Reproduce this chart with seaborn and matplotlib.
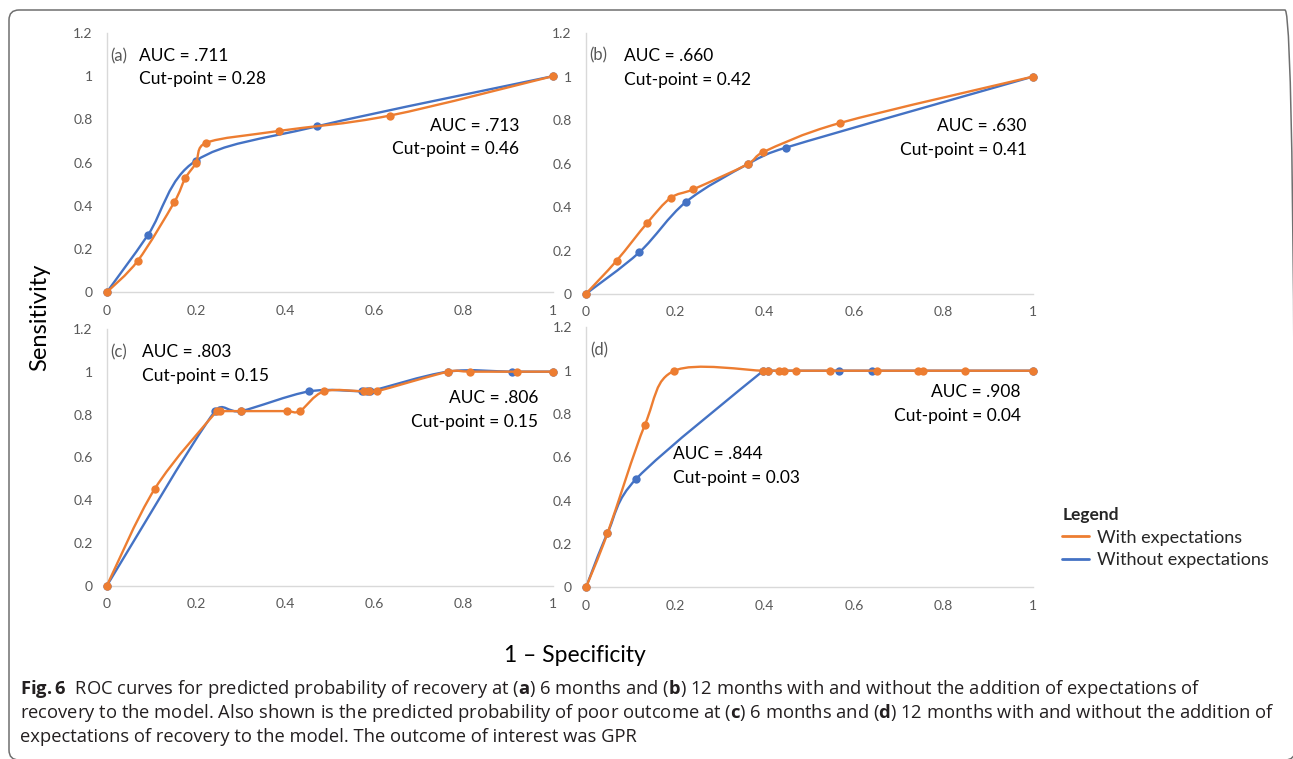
import numpy as np
import matplotlib
matplotlib.use("Agg")
import matplotlib.pyplot as plt
import seaborn as sns
from matplotlib.path import Path
from matplotlib.patches import PathPatch, FancyBboxPatch
from matplotlib.lines import Line2D
from matplotlib.transforms import IdentityTransform

# ---- data (1 - specificity, sensitivity) ----
# (a) recovery, 6 months
a_with_x = [0, 0.070, 0.152, 0.176, 0.200, 0.223, 0.387, 0.635, 1]
a_with_y = [0, 0.147, 0.419, 0.527, 0.598, 0.692, 0.747, 0.818, 1]
a_wo_x = [0, 0.093, 0.200, 0.471, 1]
a_wo_y = [0, 0.267, 0.609, 0.768, 1]

# (b) recovery, 12 months
b_with_x = [0, 0.069, 0.138, 0.190, 0.241, 0.362, 0.397, 0.569, 1]
b_with_y = [0, 0.153, 0.328, 0.442, 0.482, 0.597, 0.653, 0.787, 1]
b_wo_x = [0, 0.120, 0.224, 0.362, 0.447, 1]
b_wo_y = [0, 0.192, 0.423, 0.597, 0.673, 1]

# (c) poor outcome, 6 months
c_with_x = [0, 0.108, 0.247, 0.254, 0.301, 0.404, 0.433, 0.487, 0.577, 0.589, 0.605, 0.766, 0.815, 0.919, 1]
c_with_y = [0, 0.454, 0.816, 0.816, 0.816, 0.816, 0.816, 0.908, 0.908, 0.908, 0.908, 1, 1, 1, 1]
c_wo_x = [0, 0.243, 0.301, 0.454, 0.572, 0.583, 0.590, 0.765, 0.908, 1]
c_wo_y = [0, 0.816, 0.816, 0.908, 0.908, 0.908, 0.908, 1, 1, 1]

# (d) poor outcome, 12 months
d_with_x = [0, 0.048, 0.132, 0.198, 0.397, 0.407, 0.433, 0.444, 0.470, 0.546, 0.651, 0.744, 0.755, 0.849, 1]
d_with_y = [0, 0.249, 0.751, 1, 1, 1, 1, 1, 1, 1, 1, 1, 1, 1, 1]
d_wo_x = [0, 0.048, 0.113, 0.397, 0.407, 0.567, 0.641, 1]
d_wo_y = [0, 0.249, 0.502, 1, 1, 1, 1, 1]

panels = {
    "a": (a_with_x, a_with_y, a_wo_x, a_wo_y),
    "b": (b_with_x, b_with_y, b_wo_x, b_wo_y),
    "c": (c_with_x, c_with_y, c_wo_x, c_wo_y),
    "d": (d_with_x, d_with_y, d_wo_x, d_wo_y),
}

# annotation text: (left lines, right lines)
notes = {
    "a": (["AUC = .711", "Cut-point = 0.28"], ["AUC = .713", "Cut-point = 0.46"]),
    "b": (["AUC = .660", "Cut-point = 0.42"], ["AUC = .630", "Cut-point = 0.41"]),
    "c": (["AUC = .803", "Cut-point = 0.15"], ["AUC = .806", "Cut-point = 0.15"]),
    "d": ([], ["AUC = .908", "Cut-point = 0.04"]),
}

ORANGE = "#ED7D31"
BLUE = "#4472C4"
GREY = "#595959"
AXIS = "#d9d9d9"

sns.set_theme(style="white")
plt.rcParams["font.family"] = ["Lato", "DejaVu Sans"]
plt.rcParams["mathtext.fontset"] = "custom"
plt.rcParams["mathtext.rm"] = "Open Sans"
plt.rcParams["mathtext.bf"] = "Open Sans:bold"

W, H = 1293, 759
fig = plt.figure(figsize=(W / 100, H / 100), dpi=100)
fig.patch.set_facecolor("white")


def px_axes(x0, x1, y0, y12):
    # x0/x1 = pixel of x=0/x=1, y0/y12 = pixel row of y=0 / y=1.2
    return fig.add_axes([x0 / W, 1 - y0 / H, (x1 - x0) / W, (y0 - y12) / H])


boxes = {
    "a": (106.7, 552.7, 292.3, 33.0),
    "b": (585.7, 1032.7, 294.0, 33.2),
    "c": (106.7, 552.7, 586.0, 328.8),
    "d": (586.0, 1032.7, 587.3, 327.4),
}


def smooth_path(xs, ys, sx, sy):
    # excel-like smoothed line: bezier segments with catmull-rom tangents
    p = np.column_stack([np.array(xs) * sx, np.array(ys) * sy])
    n = len(p)
    verts = [p[0]]
    codes = [Path.MOVETO]
    for i in range(n - 1):
        pa = p[i - 1] if i > 0 else p[i]
        pb = p[i + 2] if i + 2 < n else p[i + 1]
        seg = np.linalg.norm(p[i + 1] - p[i])
        t1 = (p[i + 1] - pa) / 6
        t2 = (pb - p[i]) / 6
        for t in (t1, t2):
            L = np.linalg.norm(t)
            if L > seg * 0.5 and L > 0:
                t *= seg * 0.5 / L
        verts += [p[i] + t1, p[i + 1] - t2, p[i + 1]]
        codes += [Path.CURVE4] * 3
    verts = np.array(verts)
    verts[:, 0] /= sx
    verts[:, 1] /= sy
    return Path(verts, codes)


for key, (wx, wy, ox, oy) in panels.items():
    x0, x1, y0, y12 = boxes[key]
    ax = px_axes(x0, x1, y0, y12)
    sx = x1 - x0
    sy = (y0 - y12) / 1.2
    for xs, ys, col, z in [(ox, oy, BLUE, 2), (wx, wy, ORANGE, 4)]:
        ax.add_patch(PathPatch(smooth_path(xs, ys, sx, sy), fill=False,
                               edgecolor=col, lw=1.7, zorder=z, clip_on=False))
        sns.scatterplot(x=xs, y=ys, color=col, s=36, linewidth=0, ax=ax,
                        zorder=z + 1, clip_on=False)
    ax.set_xlim(0, 1)
    ax.set_ylim(0, 1.2)
    ax.set_xticks([0, 0.2, 0.4, 0.6, 0.8, 1])
    ax.set_xticklabels(["0", "0.2", "0.4", "0.6", "0.8", "1"])
    ax.set_yticks([0, 0.2, 0.4, 0.6, 0.8, 1, 1.2])
    ax.set_yticklabels(["0", "0.2", "0.4", "0.6", "0.8", "1", "1.2"])
    ax.tick_params(axis="both", length=0, labelsize=10, labelcolor=GREY)
    ax.tick_params(axis="y", pad=10)
    ax.tick_params(axis="x", pad=9)
    ax.patch.set_alpha(0)
    for s in ["top", "right"]:
        ax.spines[s].set_visible(False)
    for s in ["left", "bottom"]:
        ax.spines[s].set_color(AXIS)
        ax.spines[s].set_linewidth(1.0)

    def dat(px, py):
        return (px - x0) / sx, (y0 - py) / sy

    left, right = notes[key]
    # panel tag
    tx, ty = dat(x0 + 4, {"a": 56, "b": 55.7, "c": 352.3, "d": 350}[key])
    ax.text(tx, ty, f"({key})", fontsize=12, color=GREY, va="center", ha="left")
    if left:
        lx = {"a": 139, "b": 624, "c": 141.7}[key]
        ly = {"a": (56, 79), "b": (55.7, 80), "c": (352.3, 376)}[key]
        for line, yy in zip(left, ly):
            ax.text(*dat(lx, yy), line, fontsize=12.5, color="black", va="center", ha="left")
    rx = {"a": 519, "b": 1026.7, "c": 538.3, "d": 1020.7}[key]
    ry = {"a": (126, 149), "b": (126, 150), "c": (397.7, 421.7), "d": (392.3, 416)}[key]
    for line, yy in zip(right, ry):
        ax.text(*dat(rx, yy), line, fontsize=12.5, color="black", va="center", ha="right")
    if key == "d":
        for line, yy in zip(["AUC = .844", "Cut-point = 0.03"], (454.3, 478.3)):
            ax.text(*dat(672.7, yy), line, fontsize=12.5, color="black", va="center", ha="left")

# axis titles
fig.text(40 / W, 1 - 317 / H, "Sensitivity", rotation=90, fontsize=17,
         color="black", ha="center", va="center")
fig.text(575 / W, 1 - 655 / H, "1 \u2013 Specificity", fontsize=16.5,
         color="black", ha="center", va="center")

# legend
handles = [Line2D([0], [0], color=ORANGE, lw=2), Line2D([0], [0], color=BLUE, lw=2)]
leg = fig.legend(handles, ["With expectations", "Without expectations"],
                 title="Legend", loc="upper left",
                 bbox_to_anchor=(1046 / W, 1 - 491 / H), frameon=False,
                 fontsize=13, title_fontproperties={"weight": "bold", "size": 12.5},
                 handlelength=1.5, handletextpad=0.45, labelspacing=0.35,
                 alignment="left")

# caption
cap = [
    r"$\mathbf{Fig.6}$  ROC curves for predicted probability of recovery at ($\mathbf{a}$) 6 months and ($\mathbf{b}$) 12 months with and without the addition of expectations of",
    r"recovery to the model. Also shown is the predicted probability of poor outcome at ($\mathbf{c}$) 6 months and ($\mathbf{d}$) 12 months with and without the addition of",
    "expectations of recovery to the model. The outcome of interest was GPR",
]
for line, yy in zip(cap, (689, 713, 737)):
    fig.text(20 / W, 1 - yy / H, line, fontsize=13.25, family="Open Sans",
             color="#231f20", ha="left", va="center")

# outer rounded frame (right and bottom edges fall off the canvas)
frame = FancyBboxPatch((9, -1), 1286, 750, boxstyle="round,pad=0,rounding_size=10",
                       transform=IdentityTransform(), fill=False,
                       edgecolor="#6f6f6f", lw=1.1)
fig.patches.append(frame)

fig.savefig("out.png", dpi=100, facecolor="white")
